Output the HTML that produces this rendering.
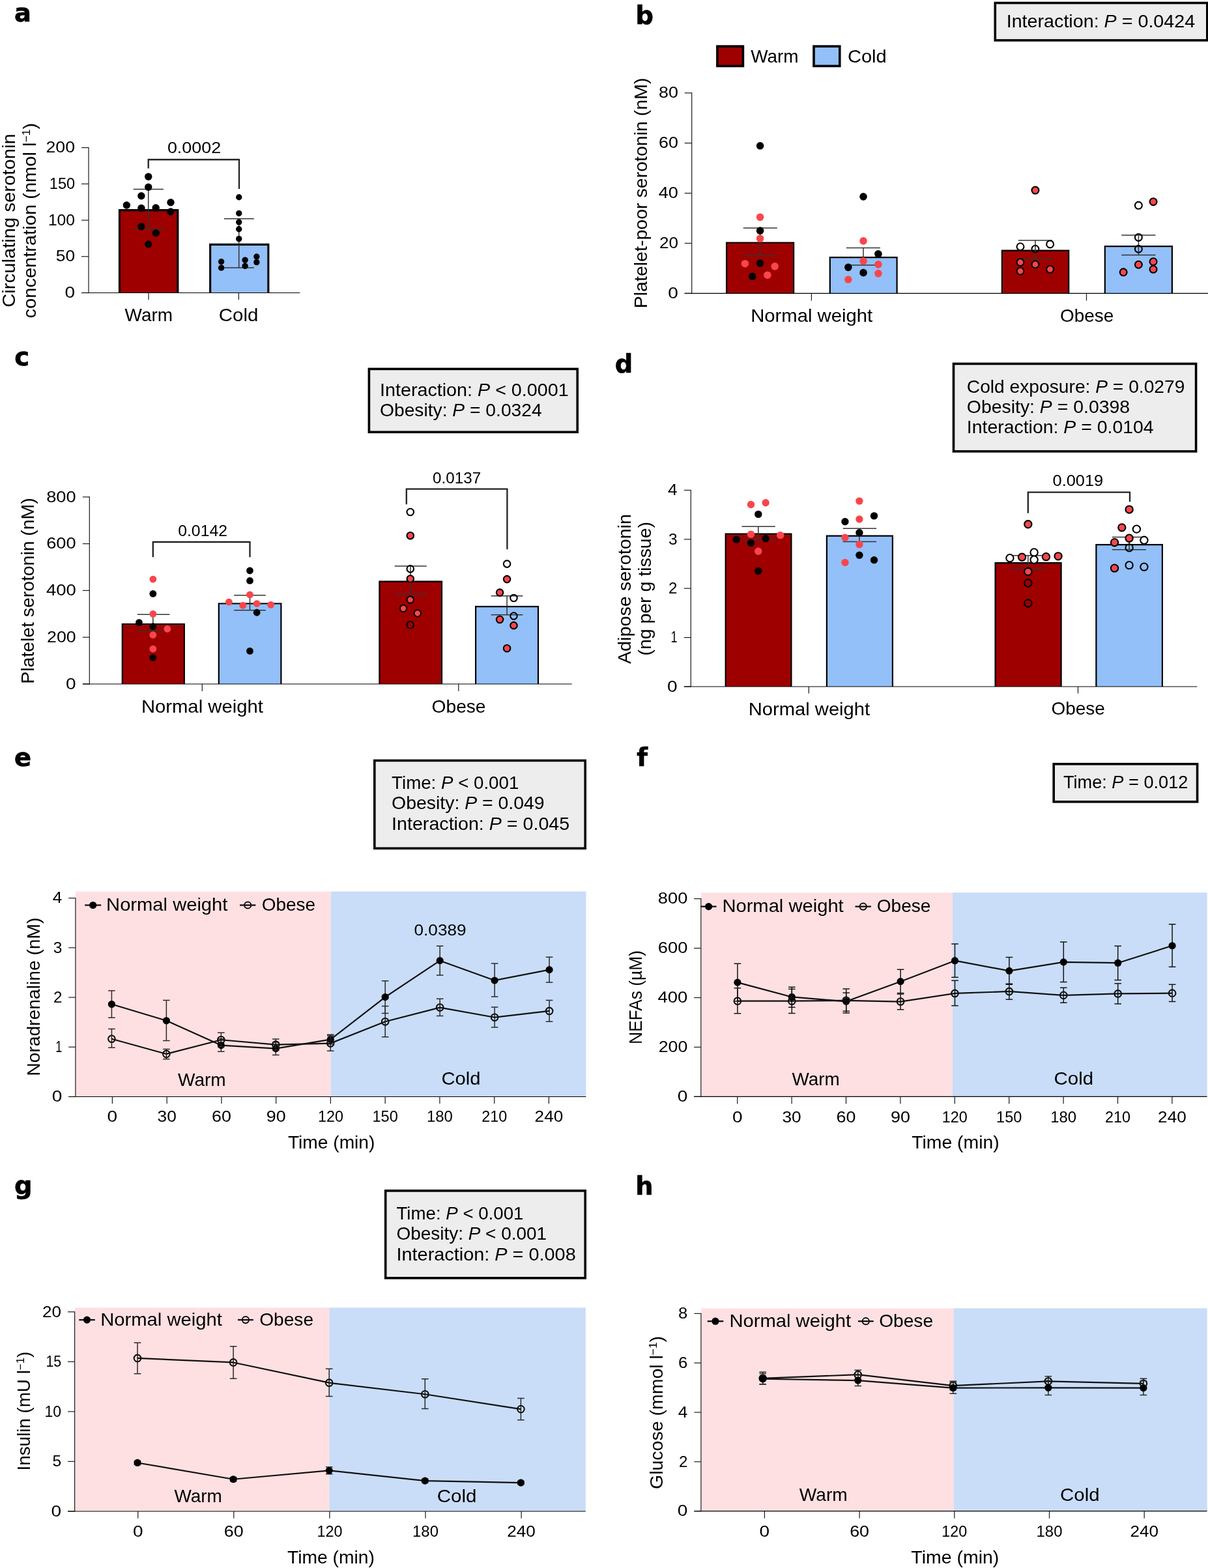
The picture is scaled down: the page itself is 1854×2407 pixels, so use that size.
<!DOCTYPE html>
<html lang="en">
<head>
<meta charset="utf-8">
<title>Figure</title>
<style>
html,body{margin:0;padding:0;background:#fff;}
body{width:1854px;height:2407px;overflow:hidden;}
svg{display:block;}
text{font-family:"Liberation Sans",sans-serif;fill:#000;}
text.pl{font-family:"DejaVu Sans","Liberation Sans",sans-serif;font-weight:bold;stroke:#000;stroke-width:0.7px;stroke-linejoin:round;}
</style>
</head>
<body>
<svg width="1854" height="2407" viewBox="0 0 1854 2407">
<rect x="0" y="0" width="1854" height="2407" fill="#fff"/>
<g id="panel_a">
<text x="22" y="33.2" font-size="38.4" class="pl" textLength="25.91" lengthAdjust="spacingAndGlyphs">a</text>
<path d="M183.45 449.5V322.65H272.85V449.5" fill="#9e0000" stroke="#000" stroke-width="3.1" stroke-linejoin="miter"/>
<path d="M322.65 449.5V375.35H411.85V449.5" fill="#93c0f9" stroke="#000" stroke-width="3.1" stroke-linejoin="miter"/>
<line x1="136" y1="226" x2="136" y2="450.1" stroke="#1a1a1a" stroke-width="1.2" stroke-linecap="butt"/>
<line x1="125" y1="449.5" x2="136" y2="449.5" stroke="#1a1a1a" stroke-width="1.2" stroke-linecap="butt"/>
<text x="99.5" y="457.2" font-size="24" textLength="15.6" lengthAdjust="spacingAndGlyphs">0</text>
<line x1="125" y1="393.77" x2="136" y2="393.77" stroke="#1a1a1a" stroke-width="1.2" stroke-linecap="butt"/>
<text x="85.8" y="401.47" font-size="24" textLength="29.3" lengthAdjust="spacingAndGlyphs">50</text>
<line x1="125" y1="338.05" x2="136" y2="338.05" stroke="#1a1a1a" stroke-width="1.2" stroke-linecap="butt"/>
<text x="73.9" y="345.75" font-size="24" textLength="41.2" lengthAdjust="spacingAndGlyphs">100</text>
<line x1="125" y1="282.32" x2="136" y2="282.32" stroke="#1a1a1a" stroke-width="1.2" stroke-linecap="butt"/>
<text x="75.8" y="290.02" font-size="24" textLength="39.3" lengthAdjust="spacingAndGlyphs">150</text>
<line x1="125" y1="226.6" x2="136" y2="226.6" stroke="#1a1a1a" stroke-width="1.2" stroke-linecap="butt"/>
<text x="70.5" y="234.3" font-size="24" textLength="44.6" lengthAdjust="spacingAndGlyphs">200</text>
<line x1="125" y1="449.5" x2="460.3" y2="449.5" stroke="#000" stroke-width="1.2" stroke-linecap="butt"/>
<line x1="228" y1="449.5" x2="228" y2="460" stroke="#1a1a1a" stroke-width="1.2" stroke-linecap="butt"/>
<line x1="366.4" y1="449.5" x2="366.4" y2="460" stroke="#1a1a1a" stroke-width="1.2" stroke-linecap="butt"/>
<path d="M227.7 290.4V351M204.6 290.4H250.9M204.6 351H250.9" fill="none" stroke="#333" stroke-width="1.5"/>
<path d="M366.7 335.8V410.9M343.9 335.8H389.8M343.9 410.9H389.8" fill="none" stroke="#333" stroke-width="1.5"/>
<circle cx="227.74" cy="271.32" r="5.7" fill="#000"/>
<circle cx="227.74" cy="287.31" r="5.7" fill="#000"/>
<circle cx="216.89" cy="300.72" r="5.7" fill="#000"/>
<circle cx="194.35" cy="314.99" r="5.7" fill="#000"/>
<circle cx="261.99" cy="310.71" r="5.7" fill="#000"/>
<circle cx="216.89" cy="319.55" r="5.7" fill="#000"/>
<circle cx="239.16" cy="318.98" r="5.7" fill="#000"/>
<circle cx="261.99" cy="324.98" r="5.7" fill="#000"/>
<circle cx="216.89" cy="347.81" r="5.7" fill="#000"/>
<circle cx="239.16" cy="357.8" r="5.7" fill="#000"/>
<circle cx="227.74" cy="374.92" r="5.7" fill="#000"/>
<circle cx="366.72" cy="302.72" r="4.7" fill="#000"/>
<circle cx="366.72" cy="327.55" r="4.7" fill="#000"/>
<circle cx="366.72" cy="340.96" r="4.7" fill="#000"/>
<circle cx="366.72" cy="351.8" r="4.7" fill="#000"/>
<circle cx="366.72" cy="366.64" r="4.7" fill="#000"/>
<circle cx="339.61" cy="401.75" r="4.7" fill="#000"/>
<circle cx="376.14" cy="399.18" r="4.7" fill="#000"/>
<circle cx="393.84" cy="394.04" r="4.7" fill="#000"/>
<circle cx="393.84" cy="402.6" r="4.7" fill="#000"/>
<circle cx="339.61" cy="411.16" r="4.7" fill="#000"/>
<circle cx="376.14" cy="408.31" r="4.7" fill="#000"/>
<path d="M227.7 258.5V245H367V289.9" fill="none" stroke="#222" stroke-width="2.3" stroke-linejoin="miter"/>
<text x="256.9" y="235.1" font-size="24" textLength="82.4" lengthAdjust="spacingAndGlyphs">0.0002</text>
<text x="191.6" y="492.5" font-size="28" textLength="73.4" lengthAdjust="spacingAndGlyphs">Warm</text>
<text x="335.8" y="492.5" font-size="28" textLength="60.5" lengthAdjust="spacingAndGlyphs">Cold</text>
<text transform="translate(23.4 471.8) rotate(-90)" font-size="28" textLength="266.5" lengthAdjust="spacingAndGlyphs">Circulating serotonin</text>
<text transform="translate(54.7 488.5) rotate(-90)" font-size="28" textLength="299.8" lengthAdjust="spacingAndGlyphs">concentration (nmol l<tspan font-size="17" dy="-9">−1</tspan><tspan dy="9">)</tspan></text>
</g>
<g id="panel_b">
<text x="975.4" y="37.3" font-size="38.4" class="pl" textLength="27.49" lengthAdjust="spacingAndGlyphs">b</text>
<rect x="1527.3" y="4.5" width="325.5" height="57.4" fill="#ededed" stroke="#000" stroke-width="3.6"/>
<text x="1544.7" y="41.8" font-size="28" textLength="289.5" lengthAdjust="spacingAndGlyphs">Interaction: <tspan font-style="italic">P</tspan> = 0.0424</text>
<rect x="1100.9" y="71.1" width="39.5" height="30.3" fill="#9e0000" stroke="#000" stroke-width="3.6"/>
<text x="1152.2" y="95.9" font-size="28" textLength="73.4" lengthAdjust="spacingAndGlyphs">Warm</text>
<rect x="1249" y="71.1" width="39.8" height="30.3" fill="#93c0f9" stroke="#000" stroke-width="3.6"/>
<text x="1300.9" y="95.9" font-size="28" textLength="59.9" lengthAdjust="spacingAndGlyphs">Cold</text>
<path d="M1115.1 450.4V372.5H1218.1V450.4" fill="#9e0000" stroke="#000" stroke-width="2.2" stroke-linejoin="miter"/>
<path d="M1273.8 450.4V395.1H1376.6V450.4" fill="#93c0f9" stroke="#000" stroke-width="2.2" stroke-linejoin="miter"/>
<path d="M1537.9 450.4V384.7H1640.2V450.4" fill="#9e0000" stroke="#000" stroke-width="2.2" stroke-linejoin="miter"/>
<path d="M1695.8 450.4V378.2H1798.9V450.4" fill="#93c0f9" stroke="#000" stroke-width="2.2" stroke-linejoin="miter"/>
<line x1="1061.7" y1="142.1" x2="1061.7" y2="451" stroke="#1a1a1a" stroke-width="1.2" stroke-linecap="butt"/>
<line x1="1050.7" y1="450.4" x2="1061.7" y2="450.4" stroke="#1a1a1a" stroke-width="1.2" stroke-linecap="butt"/>
<text x="1025.3" y="458.1" font-size="24" textLength="15.6" lengthAdjust="spacingAndGlyphs">0</text>
<line x1="1050.7" y1="373.47" x2="1061.7" y2="373.47" stroke="#1a1a1a" stroke-width="1.2" stroke-linecap="butt"/>
<text x="1011.9" y="381.17" font-size="24" textLength="29" lengthAdjust="spacingAndGlyphs">20</text>
<line x1="1050.7" y1="296.55" x2="1061.7" y2="296.55" stroke="#1a1a1a" stroke-width="1.2" stroke-linecap="butt"/>
<text x="1010.7" y="304.25" font-size="24" textLength="30.2" lengthAdjust="spacingAndGlyphs">40</text>
<line x1="1050.7" y1="219.62" x2="1061.7" y2="219.62" stroke="#1a1a1a" stroke-width="1.2" stroke-linecap="butt"/>
<text x="1011" y="227.32" font-size="24" textLength="29.9" lengthAdjust="spacingAndGlyphs">60</text>
<line x1="1050.7" y1="142.7" x2="1061.7" y2="142.7" stroke="#1a1a1a" stroke-width="1.2" stroke-linecap="butt"/>
<text x="1011" y="150.4" font-size="24" textLength="29.9" lengthAdjust="spacingAndGlyphs">80</text>
<line x1="1050.7" y1="450.4" x2="1854" y2="450.4" stroke="#000" stroke-width="1.2" stroke-linecap="butt"/>
<line x1="1245.4" y1="450.4" x2="1245.4" y2="461.5" stroke="#1a1a1a" stroke-width="1.2" stroke-linecap="butt"/>
<line x1="1667.5" y1="450.4" x2="1667.5" y2="461.5" stroke="#1a1a1a" stroke-width="1.2" stroke-linecap="butt"/>
<path d="M1166.6 350V392.5M1140.7 350H1192.8M1140.7 392.5H1192.8" fill="none" stroke="#333" stroke-width="1.5"/>
<path d="M1325 380.6V407.1M1298.9 380.6H1350.9M1298.9 407.1H1350.9" fill="none" stroke="#333" stroke-width="1.5"/>
<path d="M1588.9 369V397.1M1562.8 369H1615.1M1562.8 397.1H1615.1" fill="none" stroke="#333" stroke-width="1.5"/>
<path d="M1747.4 360.9V391.4M1721.2 360.9H1773.5M1721.2 391.4H1773.5" fill="none" stroke="#333" stroke-width="1.5"/>
<circle cx="1166.6" cy="333.34" r="5.8" fill="#f9464c"/>
<circle cx="1166.6" cy="354.15" r="5.8" fill="#000"/>
<circle cx="1166.6" cy="366.04" r="5.8" fill="#f9464c"/>
<circle cx="1143.41" cy="404.68" r="5.8" fill="#f9464c"/>
<circle cx="1166.6" cy="404.09" r="5.8" fill="#000"/>
<circle cx="1189.19" cy="408.85" r="5.8" fill="#f9464c"/>
<circle cx="1154.71" cy="424.3" r="5.8" fill="#000"/>
<circle cx="1177.9" cy="422.22" r="5.8" fill="#f9464c"/>
<circle cx="1325.04" cy="301.83" r="5.8" fill="#000"/>
<circle cx="1325.04" cy="369.9" r="5.8" fill="#f9464c"/>
<circle cx="1347.93" cy="389.82" r="5.8" fill="#000"/>
<circle cx="1325.04" cy="400.82" r="5.8" fill="#f9464c"/>
<circle cx="1347.93" cy="405.87" r="5.8" fill="#f9464c"/>
<circle cx="1301.85" cy="410.33" r="5.8" fill="#000"/>
<circle cx="1325.04" cy="418.66" r="5.8" fill="#000"/>
<circle cx="1347.93" cy="419.85" r="5.8" fill="#f9464c"/>
<circle cx="1301.85" cy="429.06" r="5.8" fill="#f9464c"/>
<circle cx="1166.6" cy="223.8" r="5.8" fill="#000"/>
<circle cx="1588.93" cy="292.09" r="5.45" fill="#f9464c" stroke="#000" stroke-width="2.1"/>
<circle cx="1565.99" cy="378.73" r="5.45" fill="none" stroke="#000" stroke-width="2.1"/>
<circle cx="1611.61" cy="374.95" r="5.45" fill="none" stroke="#000" stroke-width="2.1"/>
<circle cx="1588.93" cy="382.24" r="5.45" fill="none" stroke="#000" stroke-width="2.1"/>
<circle cx="1565.99" cy="402.75" r="5.45" fill="#f9464c" stroke="#000" stroke-width="2.1"/>
<circle cx="1588.93" cy="405.99" r="5.45" fill="#f9464c" stroke="#000" stroke-width="2.1"/>
<circle cx="1611.61" cy="413.28" r="5.45" fill="#f9464c" stroke="#000" stroke-width="2.1"/>
<circle cx="1565.99" cy="416.25" r="5.45" fill="#f9464c" stroke="#000" stroke-width="2.1"/>
<circle cx="1770.04" cy="309.64" r="5.45" fill="#f9464c" stroke="#000" stroke-width="2.1"/>
<circle cx="1747.37" cy="315.3" r="5.45" fill="none" stroke="#000" stroke-width="2.1"/>
<circle cx="1747.37" cy="364.43" r="5.45" fill="none" stroke="#000" stroke-width="2.1"/>
<circle cx="1747.37" cy="382.24" r="5.45" fill="none" stroke="#000" stroke-width="2.1"/>
<circle cx="1770.04" cy="401.67" r="5.45" fill="#f9464c" stroke="#000" stroke-width="2.1"/>
<circle cx="1747.37" cy="406.26" r="5.45" fill="#f9464c" stroke="#000" stroke-width="2.1"/>
<circle cx="1770.04" cy="413.28" r="5.45" fill="#f9464c" stroke="#000" stroke-width="2.1"/>
<circle cx="1724.16" cy="417.87" r="5.45" fill="#f9464c" stroke="#000" stroke-width="2.1"/>
<text x="1152.2" y="494.2" font-size="28" textLength="186.9" lengthAdjust="spacingAndGlyphs">Normal weight</text>
<text x="1627" y="493.9" font-size="28" textLength="82.2" lengthAdjust="spacingAndGlyphs">Obese</text>
<text transform="translate(992.5 473.3) rotate(-90)" font-size="28" textLength="353.8" lengthAdjust="spacingAndGlyphs">Platelet-poor serotonin (nM)</text>
</g>
<g id="panel_c">
<text x="22.3" y="560.5" font-size="38.4" class="pl" textLength="22.76" lengthAdjust="spacingAndGlyphs">c</text>
<rect x="566.4" y="566.4" width="319.8" height="96.9" fill="#ededed" stroke="#000" stroke-width="3.6"/>
<text x="583" y="607.7" font-size="28" textLength="289.7" lengthAdjust="spacingAndGlyphs">Interaction: <tspan font-style="italic">P</tspan> &lt; 0.0001</text>
<text x="583" y="638.9" font-size="28" textLength="248.7" lengthAdjust="spacingAndGlyphs">Obesity: <tspan font-style="italic">P</tspan> = 0.0324</text>
<path d="M187.8 1050V958H282.8V1050" fill="#9e0000" stroke="#000" stroke-width="2.2" stroke-linejoin="miter"/>
<path d="M335.8 1050V926.5H431.4V1050" fill="#93c0f9" stroke="#000" stroke-width="2.2" stroke-linejoin="miter"/>
<path d="M582.4 1050V892.6H678V1050" fill="#9e0000" stroke="#000" stroke-width="2.2" stroke-linejoin="miter"/>
<path d="M730.1 1050V931.2H826V1050" fill="#93c0f9" stroke="#000" stroke-width="2.2" stroke-linejoin="miter"/>
<line x1="137.3" y1="762.3" x2="137.3" y2="1050.6" stroke="#1a1a1a" stroke-width="1.2" stroke-linecap="butt"/>
<line x1="126.9" y1="1050" x2="137.3" y2="1050" stroke="#1a1a1a" stroke-width="1.2" stroke-linecap="butt"/>
<text x="101.1" y="1057.7" font-size="24" textLength="15.6" lengthAdjust="spacingAndGlyphs">0</text>
<line x1="126.9" y1="978.23" x2="137.3" y2="978.23" stroke="#1a1a1a" stroke-width="1.2" stroke-linecap="butt"/>
<text x="72.1" y="985.93" font-size="24" textLength="44.6" lengthAdjust="spacingAndGlyphs">200</text>
<line x1="126.9" y1="906.45" x2="137.3" y2="906.45" stroke="#1a1a1a" stroke-width="1.2" stroke-linecap="butt"/>
<text x="70.9" y="914.15" font-size="24" textLength="45.8" lengthAdjust="spacingAndGlyphs">400</text>
<line x1="126.9" y1="834.67" x2="137.3" y2="834.67" stroke="#1a1a1a" stroke-width="1.2" stroke-linecap="butt"/>
<text x="71.2" y="842.38" font-size="24" textLength="45.5" lengthAdjust="spacingAndGlyphs">600</text>
<line x1="126.9" y1="762.9" x2="137.3" y2="762.9" stroke="#1a1a1a" stroke-width="1.2" stroke-linecap="butt"/>
<text x="71.2" y="770.6" font-size="24" textLength="45.5" lengthAdjust="spacingAndGlyphs">800</text>
<line x1="126.9" y1="1050" x2="877.7" y2="1050" stroke="#000" stroke-width="1.2" stroke-linecap="butt"/>
<line x1="310.3" y1="1050" x2="310.3" y2="1061" stroke="#1a1a1a" stroke-width="1.2" stroke-linecap="butt"/>
<line x1="703.8" y1="1050" x2="703.8" y2="1061" stroke="#1a1a1a" stroke-width="1.2" stroke-linecap="butt"/>
<path d="M234.8 943.2V968.5M210.8 943.2H260.4M210.8 968.5H260.4" fill="none" stroke="#333" stroke-width="1.5"/>
<path d="M383.5 913.8V936.7M359.1 913.8H407.8M359.1 936.7H407.8" fill="none" stroke="#333" stroke-width="1.5"/>
<path d="M630 868.9V912M605.7 868.9H654.7M605.7 912H654.7" fill="none" stroke="#333" stroke-width="1.5"/>
<path d="M778.1 914.7V943.8M753.7 914.7H802.4M753.7 943.8H802.4" fill="none" stroke="#333" stroke-width="1.5"/>
<circle cx="234.84" cy="889.1" r="5.4" fill="#f9464c"/>
<circle cx="234.84" cy="911.39" r="5.4" fill="#000"/>
<circle cx="234.84" cy="942.31" r="5.4" fill="#f9464c"/>
<circle cx="213.44" cy="955.68" r="5.4" fill="#000"/>
<circle cx="234.84" cy="961.63" r="5.4" fill="#000"/>
<circle cx="256.84" cy="965.49" r="5.4" fill="#f9464c"/>
<circle cx="234.84" cy="974.71" r="5.4" fill="#f9464c"/>
<circle cx="234.84" cy="996.11" r="5.4" fill="#f9464c"/>
<circle cx="234.84" cy="1009.49" r="5.4" fill="#000"/>
<circle cx="383.47" cy="876.02" r="5.4" fill="#000"/>
<circle cx="383.47" cy="891.47" r="5.4" fill="#000"/>
<circle cx="383.47" cy="912.88" r="5.4" fill="#f9464c"/>
<circle cx="351.37" cy="924.17" r="5.4" fill="#f9464c"/>
<circle cx="372.77" cy="929.52" r="5.4" fill="#f9464c"/>
<circle cx="394.17" cy="926.55" r="5.4" fill="#f9464c"/>
<circle cx="415.58" cy="928.34" r="5.4" fill="#f9464c"/>
<circle cx="394.17" cy="940.23" r="5.4" fill="#000"/>
<circle cx="383.47" cy="999.38" r="5.4" fill="#000"/>
<circle cx="629.74" cy="785.95" r="5.25" fill="none" stroke="#000" stroke-width="2.1"/>
<circle cx="629.74" cy="822.21" r="5.25" fill="#f9464c" stroke="#000" stroke-width="2.1"/>
<circle cx="629.74" cy="873.34" r="5.25" fill="none" stroke="#000" stroke-width="2.1"/>
<circle cx="629.74" cy="888.5" r="5.25" fill="#f9464c" stroke="#000" stroke-width="2.1"/>
<circle cx="629.74" cy="920.61" r="5.25" fill="#f9464c" stroke="#000" stroke-width="2.1"/>
<circle cx="619.04" cy="933.98" r="5.25" fill="#f9464c" stroke="#000" stroke-width="2.1"/>
<circle cx="640.74" cy="941.41" r="5.25" fill="#f9464c" stroke="#000" stroke-width="2.1"/>
<circle cx="629.74" cy="959.25" r="5.25" fill="none" stroke="#000" stroke-width="2.1"/>
<circle cx="778.07" cy="865.61" r="5.25" fill="none" stroke="#000" stroke-width="2.1"/>
<circle cx="778.07" cy="889.1" r="5.25" fill="#f9464c" stroke="#000" stroke-width="2.1"/>
<circle cx="767.07" cy="909.61" r="5.25" fill="#f9464c" stroke="#000" stroke-width="2.1"/>
<circle cx="788.48" cy="917.93" r="5.25" fill="none" stroke="#000" stroke-width="2.1"/>
<circle cx="788.48" cy="945.58" r="5.25" fill="none" stroke="#000" stroke-width="2.1"/>
<circle cx="767.07" cy="950.93" r="5.25" fill="#f9464c" stroke="#000" stroke-width="2.1"/>
<circle cx="788.48" cy="960.14" r="5.25" fill="#f9464c" stroke="#000" stroke-width="2.1"/>
<circle cx="778.07" cy="995.22" r="5.25" fill="#f9464c" stroke="#000" stroke-width="2.1"/>
<path d="M234.8 855.2V832H383.5V855.2" fill="none" stroke="#222" stroke-width="2.3" stroke-linejoin="miter"/>
<text x="273.2" y="822.8" font-size="24" textLength="75.8" lengthAdjust="spacingAndGlyphs">0.0142</text>
<path d="M623.8 774.2V750.7H778.4V843.3" fill="none" stroke="#222" stroke-width="2.3" stroke-linejoin="miter"/>
<text x="664.1" y="742.4" font-size="24" textLength="74" lengthAdjust="spacingAndGlyphs">0.0137</text>
<text x="216.9" y="1094.2" font-size="28" textLength="186.9" lengthAdjust="spacingAndGlyphs">Normal weight</text>
<text x="662.6" y="1093.8" font-size="28" textLength="82.9" lengthAdjust="spacingAndGlyphs">Obese</text>
<text transform="translate(52 1049.8) rotate(-90)" font-size="28" textLength="285.5" lengthAdjust="spacingAndGlyphs">Platelet serotonin (nM)</text>
</g>
<g id="panel_d">
<text x="943.8" y="572" font-size="38.4" class="pl" textLength="27.49" lengthAdjust="spacingAndGlyphs">d</text>
<rect x="1463.5" y="558.4" width="372.1" height="134.5" fill="#ededed" stroke="#000" stroke-width="3.6"/>
<text x="1483.8" y="602.6" font-size="28" textLength="334.6" lengthAdjust="spacingAndGlyphs">Cold exposure: <tspan font-style="italic">P</tspan> = 0.0279</text>
<text x="1483.8" y="633.6" font-size="28" textLength="250.3" lengthAdjust="spacingAndGlyphs">Obesity: <tspan font-style="italic">P</tspan> = 0.0398</text>
<text x="1483.8" y="665.1" font-size="28" textLength="286.9" lengthAdjust="spacingAndGlyphs">Interaction: <tspan font-style="italic">P</tspan> = 0.0104</text>
<path d="M1113.7 1054V819.7H1214.4V1054" fill="#9e0000" stroke="#000" stroke-width="2.2" stroke-linejoin="miter"/>
<path d="M1268.9 1054V822.7H1369.9V1054" fill="#93c0f9" stroke="#000" stroke-width="2.2" stroke-linejoin="miter"/>
<path d="M1527.6 1054V864.2H1628.6V1054" fill="#9e0000" stroke="#000" stroke-width="2.2" stroke-linejoin="miter"/>
<path d="M1682.4 1054V836.1H1783.9V1054" fill="#93c0f9" stroke="#000" stroke-width="2.2" stroke-linejoin="miter"/>
<line x1="1060.3" y1="751.9" x2="1060.3" y2="1054.6" stroke="#1a1a1a" stroke-width="1.2" stroke-linecap="butt"/>
<line x1="1049.9" y1="1054" x2="1060.3" y2="1054" stroke="#1a1a1a" stroke-width="1.2" stroke-linecap="butt"/>
<text x="1023.9" y="1061.7" font-size="24" textLength="15.6" lengthAdjust="spacingAndGlyphs">0</text>
<line x1="1049.9" y1="978.62" x2="1060.3" y2="978.62" stroke="#1a1a1a" stroke-width="1.2" stroke-linecap="butt"/>
<text x="1029.5" y="986.33" font-size="24" textLength="10" lengthAdjust="spacingAndGlyphs">1</text>
<line x1="1049.9" y1="903.25" x2="1060.3" y2="903.25" stroke="#1a1a1a" stroke-width="1.2" stroke-linecap="butt"/>
<text x="1026.1" y="910.95" font-size="24" textLength="13.4" lengthAdjust="spacingAndGlyphs">2</text>
<line x1="1049.9" y1="827.88" x2="1060.3" y2="827.88" stroke="#1a1a1a" stroke-width="1.2" stroke-linecap="butt"/>
<text x="1025.9" y="835.58" font-size="24" textLength="13.6" lengthAdjust="spacingAndGlyphs">3</text>
<line x1="1049.9" y1="752.5" x2="1060.3" y2="752.5" stroke="#1a1a1a" stroke-width="1.2" stroke-linecap="butt"/>
<text x="1024.9" y="760.2" font-size="24" textLength="14.6" lengthAdjust="spacingAndGlyphs">4</text>
<line x1="1049.9" y1="1054" x2="1837.4" y2="1054" stroke="#000" stroke-width="1.2" stroke-linecap="butt"/>
<line x1="1241.3" y1="1054" x2="1241.3" y2="1064.5" stroke="#1a1a1a" stroke-width="1.2" stroke-linecap="butt"/>
<line x1="1654.5" y1="1054" x2="1654.5" y2="1064.5" stroke="#1a1a1a" stroke-width="1.2" stroke-linecap="butt"/>
<path d="M1163.8 808.2V829M1138.5 808.2H1189.9M1138.5 829H1189.9" fill="none" stroke="#333" stroke-width="1.5"/>
<path d="M1318.9 811.2V831.4M1293.7 811.2H1345.1M1293.7 831.4H1345.1" fill="none" stroke="#333" stroke-width="1.5"/>
<path d="M1577.8 852.7V872.7M1552.5 852.7H1604M1552.5 872.7H1604" fill="none" stroke="#333" stroke-width="1.5"/>
<path d="M1733.1 824.5V843.7M1706.9 824.5H1759M1706.9 843.7H1759" fill="none" stroke="#333" stroke-width="1.5"/>
<circle cx="1152.5" cy="774.5" r="5.7" fill="#f9464c"/>
<circle cx="1175.1" cy="771.8" r="5.7" fill="#f9464c"/>
<circle cx="1163.8" cy="789.4" r="5.7" fill="#000"/>
<circle cx="1318.9" cy="769.1" r="5.7" fill="#f9464c"/>
<circle cx="1152.46" cy="820.13" r="5.7" fill="#f9464c"/>
<circle cx="1197.65" cy="821.62" r="5.7" fill="#f9464c"/>
<circle cx="1130.17" cy="828.16" r="5.7" fill="#000"/>
<circle cx="1175.05" cy="826.67" r="5.7" fill="#000"/>
<circle cx="1152.46" cy="833.51" r="5.7" fill="#000"/>
<circle cx="1163.76" cy="846.29" r="5.7" fill="#f9464c"/>
<circle cx="1163.76" cy="876.61" r="5.7" fill="#000"/>
<circle cx="1341.52" cy="791.89" r="5.7" fill="#000"/>
<circle cx="1296.93" cy="800.81" r="5.7" fill="#000"/>
<circle cx="1318.93" cy="796.94" r="5.7" fill="#f9464c"/>
<circle cx="1318.93" cy="817.75" r="5.7" fill="#000"/>
<circle cx="1296.93" cy="825.18" r="5.7" fill="#f9464c"/>
<circle cx="1318.93" cy="835.89" r="5.7" fill="#f9464c"/>
<circle cx="1318.93" cy="852.24" r="5.7" fill="#000"/>
<circle cx="1341.52" cy="859.67" r="5.7" fill="#000"/>
<circle cx="1296.93" cy="863.53" r="5.7" fill="#f9464c"/>
<circle cx="1733.1" cy="782.1" r="5.65" fill="#f9464c" stroke="#000" stroke-width="2.1"/>
<circle cx="1577.83" cy="804.8" r="5.65" fill="#f9464c" stroke="#000" stroke-width="2.1"/>
<circle cx="1587.13" cy="847.92" r="5.65" fill="#fff" stroke="#000" stroke-width="2.1"/>
<circle cx="1549.93" cy="856.65" r="5.65" fill="#fff" stroke="#000" stroke-width="2.1"/>
<circle cx="1568.53" cy="855.24" r="5.65" fill="#f9464c" stroke="#000" stroke-width="2.1"/>
<circle cx="1587.13" cy="859.19" r="5.65" fill="#fff" stroke="#000" stroke-width="2.1"/>
<circle cx="1605.45" cy="854.68" r="5.65" fill="#f9464c" stroke="#000" stroke-width="2.1"/>
<circle cx="1624.05" cy="853.83" r="5.65" fill="#f9464c" stroke="#000" stroke-width="2.1"/>
<circle cx="1577.83" cy="877.51" r="5.65" fill="#f9464c" stroke="#000" stroke-width="2.1"/>
<circle cx="1577.83" cy="894.98" r="5.65" fill="none" stroke="#000" stroke-width="2.1"/>
<circle cx="1577.83" cy="925.98" r="5.65" fill="none" stroke="#000" stroke-width="2.1"/>
<circle cx="1721.83" cy="809.87" r="5.65" fill="#f9464c" stroke="#000" stroke-width="2.1"/>
<circle cx="1744.38" cy="812.13" r="5.65" fill="#fff" stroke="#000" stroke-width="2.1"/>
<circle cx="1733.11" cy="826.22" r="5.65" fill="#f9464c" stroke="#000" stroke-width="2.1"/>
<circle cx="1755.93" cy="829.32" r="5.65" fill="#fff" stroke="#000" stroke-width="2.1"/>
<circle cx="1710.56" cy="832.7" r="5.65" fill="#f9464c" stroke="#000" stroke-width="2.1"/>
<circle cx="1733.11" cy="840.87" r="5.65" fill="none" stroke="#000" stroke-width="2.1"/>
<circle cx="1710.56" cy="872.15" r="5.65" fill="#f9464c" stroke="#000" stroke-width="2.1"/>
<circle cx="1733.11" cy="867.64" r="5.65" fill="none" stroke="#000" stroke-width="2.1"/>
<circle cx="1755.93" cy="870.18" r="5.65" fill="none" stroke="#000" stroke-width="2.1"/>
<path d="M1577.8 787.7V755.6H1734V770.2" fill="none" stroke="#222" stroke-width="2.3" stroke-linejoin="miter"/>
<text x="1615.5" y="746.3" font-size="24" textLength="77.7" lengthAdjust="spacingAndGlyphs">0.0019</text>
<text x="1148.8" y="1097.5" font-size="28" textLength="186.3" lengthAdjust="spacingAndGlyphs">Normal weight</text>
<text x="1613.5" y="1097.2" font-size="28" textLength="82.3" lengthAdjust="spacingAndGlyphs">Obese</text>
<text transform="translate(968 1019.1) rotate(-90)" font-size="28" textLength="230.1" lengthAdjust="spacingAndGlyphs">Adipose serotonin</text>
<text transform="translate(999.3 1006.6) rotate(-90)" font-size="28" textLength="205.6" lengthAdjust="spacingAndGlyphs">(ng per g tissue)</text>
</g>
<g id="panel_e">
<text x="22" y="1176.1" font-size="38.4" class="pl" textLength="26.04" lengthAdjust="spacingAndGlyphs">e</text>
<rect x="574.8" y="1167.5" width="323.4" height="134.8" fill="#ededed" stroke="#000" stroke-width="3.6"/>
<text x="601.1" y="1211.2" font-size="28" textLength="195.2" lengthAdjust="spacingAndGlyphs">Time: <tspan font-style="italic">P</tspan> &lt; 0.001</text>
<text x="601.1" y="1242.4" font-size="28" textLength="234.5" lengthAdjust="spacingAndGlyphs">Obesity: <tspan font-style="italic">P</tspan> = 0.049</text>
<text x="601.1" y="1274.2" font-size="28" textLength="273.1" lengthAdjust="spacingAndGlyphs">Interaction: <tspan font-style="italic">P</tspan> = 0.045</text>
<rect x="115.9" y="1368.5" width="391.7" height="315" fill="#ffe0e2"/>
<rect x="507.6" y="1368.5" width="391.8" height="315" fill="#c9ddf8"/>
<line x1="115.9" y1="1378" x2="115.9" y2="1684.1" stroke="#1a1a1a" stroke-width="1.2" stroke-linecap="butt"/>
<line x1="105.2" y1="1683.5" x2="115.9" y2="1683.5" stroke="#1a1a1a" stroke-width="1.2" stroke-linecap="butt"/>
<text x="79.7" y="1691.2" font-size="24" textLength="15.6" lengthAdjust="spacingAndGlyphs">0</text>
<line x1="105.2" y1="1607.28" x2="115.9" y2="1607.28" stroke="#1a1a1a" stroke-width="1.2" stroke-linecap="butt"/>
<text x="85.3" y="1614.98" font-size="24" textLength="10" lengthAdjust="spacingAndGlyphs">1</text>
<line x1="105.2" y1="1531.05" x2="115.9" y2="1531.05" stroke="#1a1a1a" stroke-width="1.2" stroke-linecap="butt"/>
<text x="81.9" y="1538.75" font-size="24" textLength="13.4" lengthAdjust="spacingAndGlyphs">2</text>
<line x1="105.2" y1="1454.82" x2="115.9" y2="1454.82" stroke="#1a1a1a" stroke-width="1.2" stroke-linecap="butt"/>
<text x="81.7" y="1462.52" font-size="24" textLength="13.6" lengthAdjust="spacingAndGlyphs">3</text>
<line x1="105.2" y1="1378.6" x2="115.9" y2="1378.6" stroke="#1a1a1a" stroke-width="1.2" stroke-linecap="butt"/>
<text x="80.7" y="1386.3" font-size="24" textLength="14.6" lengthAdjust="spacingAndGlyphs">4</text>
<line x1="105.2" y1="1683.5" x2="899.4" y2="1683.5" stroke="#000" stroke-width="1.2" stroke-linecap="butt"/>
<line x1="172.4" y1="1683.5" x2="172.4" y2="1694.2" stroke="#1a1a1a" stroke-width="1.2" stroke-linecap="butt"/>
<line x1="256.15" y1="1683.5" x2="256.15" y2="1694.2" stroke="#1a1a1a" stroke-width="1.2" stroke-linecap="butt"/>
<line x1="339.9" y1="1683.5" x2="339.9" y2="1694.2" stroke="#1a1a1a" stroke-width="1.2" stroke-linecap="butt"/>
<line x1="423.65" y1="1683.5" x2="423.65" y2="1694.2" stroke="#1a1a1a" stroke-width="1.2" stroke-linecap="butt"/>
<line x1="507.4" y1="1683.5" x2="507.4" y2="1694.2" stroke="#1a1a1a" stroke-width="1.2" stroke-linecap="butt"/>
<line x1="591.15" y1="1683.5" x2="591.15" y2="1694.2" stroke="#1a1a1a" stroke-width="1.2" stroke-linecap="butt"/>
<line x1="674.9" y1="1683.5" x2="674.9" y2="1694.2" stroke="#1a1a1a" stroke-width="1.2" stroke-linecap="butt"/>
<line x1="758.65" y1="1683.5" x2="758.65" y2="1694.2" stroke="#1a1a1a" stroke-width="1.2" stroke-linecap="butt"/>
<line x1="842.4" y1="1683.5" x2="842.4" y2="1694.2" stroke="#1a1a1a" stroke-width="1.2" stroke-linecap="butt"/>
<text x="164.6" y="1722.4" font-size="24" textLength="15.6" lengthAdjust="spacingAndGlyphs">0</text>
<text x="241.55" y="1722.4" font-size="24" textLength="29.2" lengthAdjust="spacingAndGlyphs">30</text>
<text x="324.95" y="1722.4" font-size="24" textLength="29.9" lengthAdjust="spacingAndGlyphs">60</text>
<text x="408.7" y="1722.4" font-size="24" textLength="29.9" lengthAdjust="spacingAndGlyphs">90</text>
<text x="487.9" y="1722.4" font-size="24" textLength="39" lengthAdjust="spacingAndGlyphs">120</text>
<text x="571.5" y="1722.4" font-size="24" textLength="39.3" lengthAdjust="spacingAndGlyphs">150</text>
<text x="654.95" y="1722.4" font-size="24" textLength="39.9" lengthAdjust="spacingAndGlyphs">180</text>
<text x="739.15" y="1722.4" font-size="24" textLength="39" lengthAdjust="spacingAndGlyphs">210</text>
<text x="820.6" y="1722.4" font-size="24" textLength="43.6" lengthAdjust="spacingAndGlyphs">240</text>
<line x1="130.2" y1="1389.5" x2="155.2" y2="1389.5" stroke="#111" stroke-width="2.3" stroke-linecap="butt"/>
<circle cx="142.7" cy="1389.5" r="5.6" fill="#000"/>
<text x="163.1" y="1398.4" font-size="28" textLength="186.3" lengthAdjust="spacingAndGlyphs">Normal weight</text>
<line x1="368" y1="1389.5" x2="392.4" y2="1389.5" stroke="#111" stroke-width="2.3" stroke-linecap="butt"/>
<circle cx="380.2" cy="1389.5" r="5.1" fill="none" stroke="#111" stroke-width="2"/>
<text x="401.8" y="1398.4" font-size="28" textLength="82.3" lengthAdjust="spacingAndGlyphs">Obese</text>
<path d="M171.4 1520.73V1562.35M166.1 1520.73H176.7M166.1 1562.35H176.7" fill="none" stroke="#2a2a2a" stroke-width="1.5"/>
<path d="M255.36 1535.6V1597.43M250.06 1535.6H260.66M250.06 1597.43H260.66" fill="none" stroke="#2a2a2a" stroke-width="1.5"/>
<path d="M339.32 1594.75V1614.37M334.02 1594.75H344.62M334.02 1614.37H344.62" fill="none" stroke="#2a2a2a" stroke-width="1.5"/>
<path d="M423.28 1600.1V1619.42M417.98 1600.1H428.58M417.98 1619.42H428.58" fill="none" stroke="#2a2a2a" stroke-width="1.5"/>
<path d="M507.24 1588.21V1603.08M501.94 1588.21H512.54M501.94 1603.08H512.54" fill="none" stroke="#2a2a2a" stroke-width="1.5"/>
<path d="M591.2 1505.87V1555.51M585.9 1505.87H596.5M585.9 1555.51H596.5" fill="none" stroke="#2a2a2a" stroke-width="1.5"/>
<path d="M675.16 1452.36V1496.95M669.86 1452.36H680.46M669.86 1496.95H680.46" fill="none" stroke="#2a2a2a" stroke-width="1.5"/>
<path d="M759.12 1479.12V1529.95M753.82 1479.12H764.42M753.82 1529.95H764.42" fill="none" stroke="#2a2a2a" stroke-width="1.5"/>
<path d="M843.08 1469.31V1507.95M837.78 1469.31H848.38M837.78 1507.95H848.38" fill="none" stroke="#2a2a2a" stroke-width="1.5"/>
<path d="M171.4 1541.54L255.36 1566.81L339.32 1604.56L423.28 1609.62L507.24 1595.64L591.2 1530.54L675.16 1474.66L759.12 1504.98L843.08 1488.63" fill="none" stroke="#111" stroke-width="2.2" stroke-linejoin="round"/>
<circle cx="171.4" cy="1541.54" r="5.6" fill="#000"/>
<circle cx="255.36" cy="1566.81" r="5.6" fill="#000"/>
<circle cx="339.32" cy="1604.56" r="5.6" fill="#000"/>
<circle cx="423.28" cy="1609.62" r="5.6" fill="#000"/>
<circle cx="507.24" cy="1595.64" r="5.6" fill="#000"/>
<circle cx="591.2" cy="1530.54" r="5.6" fill="#000"/>
<circle cx="675.16" cy="1474.66" r="5.6" fill="#000"/>
<circle cx="759.12" cy="1504.98" r="5.6" fill="#000"/>
<circle cx="843.08" cy="1488.63" r="5.6" fill="#000"/>
<path d="M171.4 1579.59V1608.13M166.1 1579.59H176.7M166.1 1608.13H176.7" fill="none" stroke="#2a2a2a" stroke-width="1.5"/>
<path d="M255.36 1610.51V1625.67M250.06 1610.51H260.66M250.06 1625.67H260.66" fill="none" stroke="#2a2a2a" stroke-width="1.5"/>
<path d="M339.32 1585.24V1606.64M334.02 1585.24H344.62M334.02 1606.64H344.62" fill="none" stroke="#2a2a2a" stroke-width="1.5"/>
<path d="M423.28 1595.05V1611.99M417.98 1595.05H428.58M417.98 1611.99H428.58" fill="none" stroke="#2a2a2a" stroke-width="1.5"/>
<path d="M507.24 1590V1613.18M501.94 1590H512.54M501.94 1613.18H512.54" fill="none" stroke="#2a2a2a" stroke-width="1.5"/>
<path d="M591.2 1544.51V1591.78M585.9 1544.51H596.5M585.9 1591.78H596.5" fill="none" stroke="#2a2a2a" stroke-width="1.5"/>
<path d="M675.16 1533.22V1559.38M669.86 1533.22H680.46M669.86 1559.38H680.46" fill="none" stroke="#2a2a2a" stroke-width="1.5"/>
<path d="M759.12 1546V1576.92M753.82 1546H764.42M753.82 1576.92H764.42" fill="none" stroke="#2a2a2a" stroke-width="1.5"/>
<path d="M843.08 1535.6V1568.3M837.78 1535.6H848.38M837.78 1568.3H848.38" fill="none" stroke="#2a2a2a" stroke-width="1.5"/>
<path d="M171.4 1594.75L255.36 1617.94L339.32 1596.24L423.28 1603.67L507.24 1601.59L591.2 1568.3L675.16 1546.6L759.12 1561.76L843.08 1551.95" fill="none" stroke="#111" stroke-width="2.2" stroke-linejoin="round"/>
<circle cx="171.4" cy="1594.75" r="5.3" fill="none" stroke="#111" stroke-width="2.1"/>
<circle cx="255.36" cy="1617.94" r="5.3" fill="none" stroke="#111" stroke-width="2.1"/>
<circle cx="339.32" cy="1596.24" r="5.3" fill="none" stroke="#111" stroke-width="2.1"/>
<circle cx="423.28" cy="1603.67" r="5.3" fill="none" stroke="#111" stroke-width="2.1"/>
<circle cx="507.24" cy="1601.59" r="5.3" fill="none" stroke="#111" stroke-width="2.1"/>
<circle cx="591.2" cy="1568.3" r="5.3" fill="none" stroke="#111" stroke-width="2.1"/>
<circle cx="675.16" cy="1546.6" r="5.3" fill="none" stroke="#111" stroke-width="2.1"/>
<circle cx="759.12" cy="1561.76" r="5.3" fill="none" stroke="#111" stroke-width="2.1"/>
<circle cx="843.08" cy="1551.95" r="5.3" fill="none" stroke="#111" stroke-width="2.1"/>
<text x="635.55" y="1436.2" font-size="24" textLength="80" lengthAdjust="spacingAndGlyphs">0.0389</text>
<text x="273.1" y="1667.2" font-size="28" textLength="73.6" lengthAdjust="spacingAndGlyphs">Warm</text>
<text x="677.5" y="1665.3" font-size="28" textLength="60" lengthAdjust="spacingAndGlyphs">Cold</text>
<text x="441.9" y="1762.6" font-size="28" textLength="133.5" lengthAdjust="spacingAndGlyphs">Time (min)</text>
<text transform="translate(60.9 1651.8) rotate(-90)" font-size="28" textLength="243.3" lengthAdjust="spacingAndGlyphs">Noradrenaline (nM)</text>
</g>
<g id="panel_f">
<text x="977.3" y="1175.7" font-size="38.4" class="pl" textLength="16.71" lengthAdjust="spacingAndGlyphs">f</text>
<rect x="1617.2" y="1172.8" width="220.4" height="58" fill="#ededed" stroke="#000" stroke-width="3.6"/>
<text x="1631.9" y="1210.2" font-size="28" textLength="191.5" lengthAdjust="spacingAndGlyphs">Time: <tspan font-style="italic">P</tspan> = 0.012</text>
<rect x="1076.1" y="1370.2" width="385.7" height="313.2" fill="#ffe0e2"/>
<rect x="1461.8" y="1370.2" width="390.8" height="313.2" fill="#c9ddf8"/>
<line x1="1075.8" y1="1379" x2="1075.8" y2="1684" stroke="#1a1a1a" stroke-width="1.2" stroke-linecap="butt"/>
<line x1="1065.1" y1="1683.4" x2="1075.8" y2="1683.4" stroke="#1a1a1a" stroke-width="1.2" stroke-linecap="butt"/>
<text x="1039.7" y="1691.1" font-size="24" textLength="15.6" lengthAdjust="spacingAndGlyphs">0</text>
<line x1="1065.1" y1="1607.45" x2="1075.8" y2="1607.45" stroke="#1a1a1a" stroke-width="1.2" stroke-linecap="butt"/>
<text x="1010.7" y="1615.15" font-size="24" textLength="44.6" lengthAdjust="spacingAndGlyphs">200</text>
<line x1="1065.1" y1="1531.5" x2="1075.8" y2="1531.5" stroke="#1a1a1a" stroke-width="1.2" stroke-linecap="butt"/>
<text x="1009.5" y="1539.2" font-size="24" textLength="45.8" lengthAdjust="spacingAndGlyphs">400</text>
<line x1="1065.1" y1="1455.55" x2="1075.8" y2="1455.55" stroke="#1a1a1a" stroke-width="1.2" stroke-linecap="butt"/>
<text x="1009.8" y="1463.25" font-size="24" textLength="45.5" lengthAdjust="spacingAndGlyphs">600</text>
<line x1="1065.1" y1="1379.6" x2="1075.8" y2="1379.6" stroke="#1a1a1a" stroke-width="1.2" stroke-linecap="butt"/>
<text x="1009.8" y="1387.3" font-size="24" textLength="45.5" lengthAdjust="spacingAndGlyphs">800</text>
<line x1="1065.1" y1="1683.4" x2="1852.6" y2="1683.4" stroke="#000" stroke-width="1.2" stroke-linecap="butt"/>
<line x1="1131.7" y1="1683.4" x2="1131.7" y2="1694.4" stroke="#1a1a1a" stroke-width="1.2" stroke-linecap="butt"/>
<line x1="1215.1" y1="1683.4" x2="1215.1" y2="1694.4" stroke="#1a1a1a" stroke-width="1.2" stroke-linecap="butt"/>
<line x1="1298.5" y1="1683.4" x2="1298.5" y2="1694.4" stroke="#1a1a1a" stroke-width="1.2" stroke-linecap="butt"/>
<line x1="1381.9" y1="1683.4" x2="1381.9" y2="1694.4" stroke="#1a1a1a" stroke-width="1.2" stroke-linecap="butt"/>
<line x1="1465.3" y1="1683.4" x2="1465.3" y2="1694.4" stroke="#1a1a1a" stroke-width="1.2" stroke-linecap="butt"/>
<line x1="1548.7" y1="1683.4" x2="1548.7" y2="1694.4" stroke="#1a1a1a" stroke-width="1.2" stroke-linecap="butt"/>
<line x1="1632.1" y1="1683.4" x2="1632.1" y2="1694.4" stroke="#1a1a1a" stroke-width="1.2" stroke-linecap="butt"/>
<line x1="1715.5" y1="1683.4" x2="1715.5" y2="1694.4" stroke="#1a1a1a" stroke-width="1.2" stroke-linecap="butt"/>
<line x1="1798.9" y1="1683.4" x2="1798.9" y2="1694.4" stroke="#1a1a1a" stroke-width="1.2" stroke-linecap="butt"/>
<text x="1123.9" y="1722.9" font-size="24" textLength="15.6" lengthAdjust="spacingAndGlyphs">0</text>
<text x="1200.5" y="1722.9" font-size="24" textLength="29.2" lengthAdjust="spacingAndGlyphs">30</text>
<text x="1283.55" y="1722.9" font-size="24" textLength="29.9" lengthAdjust="spacingAndGlyphs">60</text>
<text x="1366.95" y="1722.9" font-size="24" textLength="29.9" lengthAdjust="spacingAndGlyphs">90</text>
<text x="1445.8" y="1722.9" font-size="24" textLength="39" lengthAdjust="spacingAndGlyphs">120</text>
<text x="1529.05" y="1722.9" font-size="24" textLength="39.3" lengthAdjust="spacingAndGlyphs">150</text>
<text x="1612.15" y="1722.9" font-size="24" textLength="39.9" lengthAdjust="spacingAndGlyphs">180</text>
<text x="1696" y="1722.9" font-size="24" textLength="39" lengthAdjust="spacingAndGlyphs">210</text>
<text x="1777.1" y="1722.9" font-size="24" textLength="43.6" lengthAdjust="spacingAndGlyphs">240</text>
<line x1="1075.6" y1="1391.6" x2="1099.6" y2="1391.6" stroke="#111" stroke-width="2.3" stroke-linecap="butt"/>
<circle cx="1087.6" cy="1391.6" r="5.6" fill="#000"/>
<text x="1108.4" y="1399.9" font-size="28" textLength="186.3" lengthAdjust="spacingAndGlyphs">Normal weight</text>
<line x1="1312.5" y1="1391.6" x2="1336.9" y2="1391.6" stroke="#111" stroke-width="2.3" stroke-linecap="butt"/>
<circle cx="1324.7" cy="1391.6" r="5.1" fill="none" stroke="#111" stroke-width="2"/>
<text x="1345.7" y="1399.9" font-size="28" textLength="82.8" lengthAdjust="spacingAndGlyphs">Obese</text>
<path d="M1131.9 1479.31V1536.98M1126.6 1479.31H1137.2M1126.6 1536.98H1137.2" fill="none" stroke="#151515" stroke-width="1.5"/>
<path d="M1215.3 1515.28V1546.2M1210 1515.28H1220.6M1210 1546.2H1220.6" fill="none" stroke="#151515" stroke-width="1.5"/>
<path d="M1298.7 1517.95V1555.11M1293.4 1517.95H1304M1293.4 1555.11H1304" fill="none" stroke="#151515" stroke-width="1.5"/>
<path d="M1382.1 1488.23V1524.49M1376.8 1488.23H1387.4M1376.8 1524.49H1387.4" fill="none" stroke="#151515" stroke-width="1.5"/>
<path d="M1465.5 1449.06V1500.34M1460.2 1449.06H1470.8M1460.2 1500.34H1470.8" fill="none" stroke="#151515" stroke-width="1.5"/>
<path d="M1548.9 1469.57V1511.13M1543.6 1469.57H1554.2M1543.6 1511.13H1554.2" fill="none" stroke="#151515" stroke-width="1.5"/>
<path d="M1632.3 1446.09V1507.62M1627 1446.09H1637.6M1627 1507.62H1637.6" fill="none" stroke="#151515" stroke-width="1.5"/>
<path d="M1715.7 1452.29V1504.39M1710.4 1452.29H1721M1710.4 1504.39H1721" fill="none" stroke="#151515" stroke-width="1.5"/>
<path d="M1799.1 1418.83V1484.14M1793.8 1418.83H1804.4M1793.8 1484.14H1804.4" fill="none" stroke="#151515" stroke-width="1.5"/>
<path d="M1131.9 1508.15L1215.3 1530.44L1298.7 1537.28L1382.1 1506.66L1465.5 1474.7L1548.9 1490.35L1632.3 1476.86L1715.7 1478.21L1799.1 1451.75" fill="none" stroke="#111" stroke-width="2.2" stroke-linejoin="round"/>
<circle cx="1131.9" cy="1508.15" r="5.6" fill="#000"/>
<circle cx="1215.3" cy="1530.44" r="5.6" fill="#000"/>
<circle cx="1298.7" cy="1537.28" r="5.6" fill="#000"/>
<circle cx="1382.1" cy="1506.66" r="5.6" fill="#000"/>
<circle cx="1465.5" cy="1474.7" r="5.6" fill="#000"/>
<circle cx="1548.9" cy="1490.35" r="5.6" fill="#000"/>
<circle cx="1632.3" cy="1476.86" r="5.6" fill="#000"/>
<circle cx="1715.7" cy="1478.21" r="5.6" fill="#000"/>
<circle cx="1799.1" cy="1451.75" r="5.6" fill="#000"/>
<path d="M1131.9 1516.77V1555.71M1126.6 1516.77H1137.2M1126.6 1555.71H1137.2" fill="none" stroke="#151515" stroke-width="1.5"/>
<path d="M1215.3 1518.25V1555.41M1210 1518.25H1220.6M1210 1555.41H1220.6" fill="none" stroke="#151515" stroke-width="1.5"/>
<path d="M1298.7 1523.9V1552.14M1293.4 1523.9H1304M1293.4 1552.14H1304" fill="none" stroke="#151515" stroke-width="1.5"/>
<path d="M1382.1 1525.98V1549.76M1376.8 1525.98H1387.4M1376.8 1549.76H1387.4" fill="none" stroke="#151515" stroke-width="1.5"/>
<path d="M1465.5 1505.2V1543.79M1460.2 1505.2H1470.8M1460.2 1543.79H1470.8" fill="none" stroke="#151515" stroke-width="1.5"/>
<path d="M1548.9 1510.32V1534.35M1543.6 1510.32H1554.2M1543.6 1534.35H1554.2" fill="none" stroke="#151515" stroke-width="1.5"/>
<path d="M1632.3 1516.26V1539.2M1627 1516.26H1637.6M1627 1539.2H1637.6" fill="none" stroke="#151515" stroke-width="1.5"/>
<path d="M1715.7 1509.78V1541.09M1710.4 1509.78H1721M1710.4 1541.09H1721" fill="none" stroke="#151515" stroke-width="1.5"/>
<path d="M1799.1 1511.13V1537.58M1793.8 1511.13H1804.4M1793.8 1537.58H1804.4" fill="none" stroke="#151515" stroke-width="1.5"/>
<path d="M1131.9 1536.68L1215.3 1536.68L1298.7 1535.79L1382.1 1537.57L1465.5 1524.9L1548.9 1521.93L1632.3 1527.87L1715.7 1525.44L1799.1 1524.63" fill="none" stroke="#111" stroke-width="2.2" stroke-linejoin="round"/>
<circle cx="1131.9" cy="1536.68" r="5.3" fill="none" stroke="#111" stroke-width="2.1"/>
<circle cx="1215.3" cy="1536.68" r="5.3" fill="none" stroke="#111" stroke-width="2.1"/>
<circle cx="1298.7" cy="1535.79" r="5.3" fill="none" stroke="#111" stroke-width="2.1"/>
<circle cx="1382.1" cy="1537.57" r="5.3" fill="none" stroke="#111" stroke-width="2.1"/>
<circle cx="1465.5" cy="1524.9" r="5.3" fill="none" stroke="#111" stroke-width="2.1"/>
<circle cx="1548.9" cy="1521.93" r="5.3" fill="none" stroke="#111" stroke-width="2.1"/>
<circle cx="1632.3" cy="1527.87" r="5.3" fill="none" stroke="#111" stroke-width="2.1"/>
<circle cx="1715.7" cy="1525.44" r="5.3" fill="none" stroke="#111" stroke-width="2.1"/>
<circle cx="1799.1" cy="1524.63" r="5.3" fill="none" stroke="#111" stroke-width="2.1"/>
<text x="1215.5" y="1665.7" font-size="28" textLength="73.3" lengthAdjust="spacingAndGlyphs">Warm</text>
<text x="1617.6" y="1665.4" font-size="28" textLength="60.6" lengthAdjust="spacingAndGlyphs">Cold</text>
<text x="1399.2" y="1762.5" font-size="28" textLength="134.6" lengthAdjust="spacingAndGlyphs">Time (min)</text>
<text transform="translate(985.2 1603.1) rotate(-90)" font-size="28" textLength="144.1" lengthAdjust="spacingAndGlyphs">NEFAs (µM)</text>
</g>
<g id="panel_g">
<text x="22" y="1833.2" font-size="38.4" class="pl" textLength="27.49" lengthAdjust="spacingAndGlyphs">g</text>
<rect x="591.7" y="1827.9" width="306.5" height="134" fill="#ededed" stroke="#000" stroke-width="3.6"/>
<text x="608.5" y="1871.6" font-size="28" textLength="194.9" lengthAdjust="spacingAndGlyphs">Time: <tspan font-style="italic">P</tspan> &lt; 0.001</text>
<text x="608.5" y="1902.8" font-size="28" textLength="230.6" lengthAdjust="spacingAndGlyphs">Obesity: <tspan font-style="italic">P</tspan> &lt; 0.001</text>
<text x="608.5" y="1934.6" font-size="28" textLength="275.2" lengthAdjust="spacingAndGlyphs">Interaction: <tspan font-style="italic">P</tspan> = 0.008</text>
<rect x="115" y="2007.4" width="390.5" height="312.6" fill="#ffe0e2"/>
<rect x="505.5" y="2007.4" width="393.3" height="312.6" fill="#c9ddf8"/>
<line x1="114.6" y1="2013.2" x2="114.6" y2="2320.6" stroke="#1a1a1a" stroke-width="1.2" stroke-linecap="butt"/>
<line x1="104" y1="2320" x2="114.6" y2="2320" stroke="#1a1a1a" stroke-width="1.2" stroke-linecap="butt"/>
<text x="78.5" y="2327.7" font-size="24" textLength="15.6" lengthAdjust="spacingAndGlyphs">0</text>
<line x1="104" y1="2243.45" x2="114.6" y2="2243.45" stroke="#1a1a1a" stroke-width="1.2" stroke-linecap="butt"/>
<text x="80.4" y="2251.15" font-size="24" textLength="13.7" lengthAdjust="spacingAndGlyphs">5</text>
<line x1="104" y1="2166.9" x2="114.6" y2="2166.9" stroke="#1a1a1a" stroke-width="1.2" stroke-linecap="butt"/>
<text x="68.5" y="2174.6" font-size="24" textLength="25.6" lengthAdjust="spacingAndGlyphs">10</text>
<line x1="104" y1="2090.35" x2="114.6" y2="2090.35" stroke="#1a1a1a" stroke-width="1.2" stroke-linecap="butt"/>
<text x="70.4" y="2098.05" font-size="24" textLength="23.7" lengthAdjust="spacingAndGlyphs">15</text>
<line x1="104" y1="2013.8" x2="114.6" y2="2013.8" stroke="#1a1a1a" stroke-width="1.2" stroke-linecap="butt"/>
<text x="65.1" y="2021.5" font-size="24" textLength="29" lengthAdjust="spacingAndGlyphs">20</text>
<line x1="104" y1="2320" x2="898.8" y2="2320" stroke="#000" stroke-width="1.2" stroke-linecap="butt"/>
<line x1="211.7" y1="2320" x2="211.7" y2="2330.8" stroke="#1a1a1a" stroke-width="1.2" stroke-linecap="butt"/>
<line x1="358.8" y1="2320" x2="358.8" y2="2330.8" stroke="#1a1a1a" stroke-width="1.2" stroke-linecap="butt"/>
<line x1="505.9" y1="2320" x2="505.9" y2="2330.8" stroke="#1a1a1a" stroke-width="1.2" stroke-linecap="butt"/>
<line x1="653" y1="2320" x2="653" y2="2330.8" stroke="#1a1a1a" stroke-width="1.2" stroke-linecap="butt"/>
<line x1="800.1" y1="2320" x2="800.1" y2="2330.8" stroke="#1a1a1a" stroke-width="1.2" stroke-linecap="butt"/>
<text x="203.9" y="2359" font-size="24" textLength="15.6" lengthAdjust="spacingAndGlyphs">0</text>
<text x="343.85" y="2359" font-size="24" textLength="29.9" lengthAdjust="spacingAndGlyphs">60</text>
<text x="486.4" y="2359" font-size="24" textLength="39" lengthAdjust="spacingAndGlyphs">120</text>
<text x="633.05" y="2359" font-size="24" textLength="39.9" lengthAdjust="spacingAndGlyphs">180</text>
<text x="778.3" y="2359" font-size="24" textLength="43.6" lengthAdjust="spacingAndGlyphs">240</text>
<line x1="121.3" y1="2026.1" x2="145.7" y2="2026.1" stroke="#111" stroke-width="2.3" stroke-linecap="butt"/>
<circle cx="133.5" cy="2026.1" r="5.6" fill="#000"/>
<text x="154.2" y="2034.8" font-size="28" textLength="186.6" lengthAdjust="spacingAndGlyphs">Normal weight</text>
<line x1="365" y1="2026.1" x2="388.8" y2="2026.1" stroke="#111" stroke-width="2.3" stroke-linecap="butt"/>
<circle cx="376.9" cy="2026.1" r="5.1" fill="none" stroke="#111" stroke-width="2"/>
<text x="398.2" y="2034.8" font-size="28" textLength="82.9" lengthAdjust="spacingAndGlyphs">Obese</text>
<path d="M211 2061.15V2108.72M205.7 2061.15H216.3M205.7 2108.72H216.3" fill="none" stroke="#2a2a2a" stroke-width="1.5"/>
<path d="M358.1 2066.8V2116.15M352.8 2066.8H363.4M352.8 2116.15H363.4" fill="none" stroke="#2a2a2a" stroke-width="1.5"/>
<path d="M505.2 2101.28V2143.5M499.9 2101.28H510.5M499.9 2143.5H510.5" fill="none" stroke="#2a2a2a" stroke-width="1.5"/>
<path d="M652.3 2116.74V2162.52M647 2116.74H657.6M647 2162.52H657.6" fill="none" stroke="#2a2a2a" stroke-width="1.5"/>
<path d="M799.4 2146.47V2179.76M794.1 2146.47H804.7M794.1 2179.76H804.7" fill="none" stroke="#2a2a2a" stroke-width="1.5"/>
<path d="M211 2084.93L358.1 2091.47L505.2 2122.69L652.3 2140.23L799.4 2163.12" fill="none" stroke="#111" stroke-width="2.2" stroke-linejoin="round"/>
<circle cx="211" cy="2084.93" r="5.3" fill="none" stroke="#111" stroke-width="2.1"/>
<circle cx="358.1" cy="2091.47" r="5.3" fill="none" stroke="#111" stroke-width="2.1"/>
<circle cx="505.2" cy="2122.69" r="5.3" fill="none" stroke="#111" stroke-width="2.1"/>
<circle cx="652.3" cy="2140.23" r="5.3" fill="none" stroke="#111" stroke-width="2.1"/>
<circle cx="799.4" cy="2163.12" r="5.3" fill="none" stroke="#111" stroke-width="2.1"/>
<path d="M211 2242.78V2248.13M205.7 2242.78H216.3M205.7 2248.13H216.3" fill="none" stroke="#2a2a2a" stroke-width="1.5"/>
<path d="M358.1 2267.75V2273.7M352.8 2267.75H363.4M352.8 2273.7H363.4" fill="none" stroke="#2a2a2a" stroke-width="1.5"/>
<path d="M505.2 2252V2262.7M499.9 2252H510.5M499.9 2262.7H510.5" fill="none" stroke="#2a2a2a" stroke-width="1.5"/>
<path d="M652.3 2270.43V2275.78M647 2270.43H657.6M647 2275.78H657.6" fill="none" stroke="#2a2a2a" stroke-width="1.5"/>
<path d="M799.4 2273.7V2278.45M794.1 2273.7H804.7M794.1 2278.45H804.7" fill="none" stroke="#2a2a2a" stroke-width="1.5"/>
<path d="M211 2245.46L358.1 2270.73L505.2 2257.35L652.3 2273.1L799.4 2276.08" fill="none" stroke="#111" stroke-width="2.2" stroke-linejoin="round"/>
<circle cx="211" cy="2245.46" r="5.6" fill="#000"/>
<circle cx="358.1" cy="2270.73" r="5.6" fill="#000"/>
<circle cx="505.2" cy="2257.35" r="5.6" fill="#000"/>
<circle cx="652.3" cy="2273.1" r="5.6" fill="#000"/>
<circle cx="799.4" cy="2276.08" r="5.6" fill="#000"/>
<text x="267.4" y="2306.1" font-size="28" textLength="73.4" lengthAdjust="spacingAndGlyphs">Warm</text>
<text x="670.7" y="2305.7" font-size="28" textLength="60.8" lengthAdjust="spacingAndGlyphs">Cold</text>
<text x="441" y="2399.7" font-size="28" textLength="133.9" lengthAdjust="spacingAndGlyphs">Time (min)</text>
<text transform="translate(46.1 2257.5) rotate(-90)" font-size="28" textLength="182.8" lengthAdjust="spacingAndGlyphs">Insulin (mU l<tspan font-size="17" dy="-9">−1</tspan><tspan dy="9">)</tspan></text>
</g>
<g id="panel_h">
<text x="975.2" y="1834.1" font-size="38.4" class="pl" textLength="27.34" lengthAdjust="spacingAndGlyphs">h</text>
<rect x="1076.1" y="2008.3" width="387.5" height="311.4" fill="#ffe0e2"/>
<rect x="1463.6" y="2008.3" width="389" height="311.4" fill="#c9ddf8"/>
<line x1="1075.9" y1="2015.8" x2="1075.9" y2="2320.3" stroke="#1a1a1a" stroke-width="1.2" stroke-linecap="butt"/>
<line x1="1065.4" y1="2319.7" x2="1075.9" y2="2319.7" stroke="#1a1a1a" stroke-width="1.2" stroke-linecap="butt"/>
<text x="1039.7" y="2327.4" font-size="24" textLength="15.6" lengthAdjust="spacingAndGlyphs">0</text>
<line x1="1065.4" y1="2243.88" x2="1075.9" y2="2243.88" stroke="#1a1a1a" stroke-width="1.2" stroke-linecap="butt"/>
<text x="1041.9" y="2251.57" font-size="24" textLength="13.4" lengthAdjust="spacingAndGlyphs">2</text>
<line x1="1065.4" y1="2168.05" x2="1075.9" y2="2168.05" stroke="#1a1a1a" stroke-width="1.2" stroke-linecap="butt"/>
<text x="1040.7" y="2175.75" font-size="24" textLength="14.6" lengthAdjust="spacingAndGlyphs">4</text>
<line x1="1065.4" y1="2092.22" x2="1075.9" y2="2092.22" stroke="#1a1a1a" stroke-width="1.2" stroke-linecap="butt"/>
<text x="1041" y="2099.92" font-size="24" textLength="14.3" lengthAdjust="spacingAndGlyphs">6</text>
<line x1="1065.4" y1="2016.4" x2="1075.9" y2="2016.4" stroke="#1a1a1a" stroke-width="1.2" stroke-linecap="butt"/>
<text x="1041" y="2024.1" font-size="24" textLength="14.3" lengthAdjust="spacingAndGlyphs">8</text>
<line x1="1065.4" y1="2319.7" x2="1852.6" y2="2319.7" stroke="#000" stroke-width="1.2" stroke-linecap="butt"/>
<line x1="1173.4" y1="2319.7" x2="1173.4" y2="2330.8" stroke="#1a1a1a" stroke-width="1.2" stroke-linecap="butt"/>
<line x1="1319.1" y1="2319.7" x2="1319.1" y2="2330.8" stroke="#1a1a1a" stroke-width="1.2" stroke-linecap="butt"/>
<line x1="1464.8" y1="2319.7" x2="1464.8" y2="2330.8" stroke="#1a1a1a" stroke-width="1.2" stroke-linecap="butt"/>
<line x1="1610.5" y1="2319.7" x2="1610.5" y2="2330.8" stroke="#1a1a1a" stroke-width="1.2" stroke-linecap="butt"/>
<line x1="1756.2" y1="2319.7" x2="1756.2" y2="2330.8" stroke="#1a1a1a" stroke-width="1.2" stroke-linecap="butt"/>
<text x="1165.6" y="2358.8" font-size="24" textLength="15.6" lengthAdjust="spacingAndGlyphs">0</text>
<text x="1304.15" y="2358.8" font-size="24" textLength="29.9" lengthAdjust="spacingAndGlyphs">60</text>
<text x="1445.3" y="2358.8" font-size="24" textLength="39" lengthAdjust="spacingAndGlyphs">120</text>
<text x="1590.55" y="2358.8" font-size="24" textLength="39.9" lengthAdjust="spacingAndGlyphs">180</text>
<text x="1734.4" y="2358.8" font-size="24" textLength="43.6" lengthAdjust="spacingAndGlyphs">240</text>
<line x1="1085.7" y1="2028.2" x2="1110.3" y2="2028.2" stroke="#111" stroke-width="2.3" stroke-linecap="butt"/>
<circle cx="1098" cy="2028.2" r="5.6" fill="#000"/>
<text x="1119.4" y="2037.1" font-size="28" textLength="186.6" lengthAdjust="spacingAndGlyphs">Normal weight</text>
<line x1="1316.9" y1="2028.2" x2="1340.7" y2="2028.2" stroke="#111" stroke-width="2.3" stroke-linecap="butt"/>
<circle cx="1328.8" cy="2028.2" r="5.1" fill="none" stroke="#111" stroke-width="2"/>
<text x="1349.2" y="2037.1" font-size="28" textLength="82.9" lengthAdjust="spacingAndGlyphs">Obese</text>
<path d="M1170.7 2106.34V2124.77M1165.4 2106.34H1176M1165.4 2124.77H1176" fill="none" stroke="#2a2a2a" stroke-width="1.5"/>
<path d="M1316.75 2103.37V2117.04M1311.45 2103.37H1322.05M1311.45 2117.04H1322.05" fill="none" stroke="#2a2a2a" stroke-width="1.5"/>
<path d="M1462.8 2120.35V2133.85M1457.5 2120.35H1468.1M1457.5 2133.85H1468.1" fill="none" stroke="#2a2a2a" stroke-width="1.5"/>
<path d="M1608.85 2112.79V2127.91M1603.55 2112.79H1614.15M1603.55 2127.91H1614.15" fill="none" stroke="#2a2a2a" stroke-width="1.5"/>
<path d="M1754.9 2116.3V2131.42M1749.6 2116.3H1760.2M1749.6 2131.42H1760.2" fill="none" stroke="#2a2a2a" stroke-width="1.5"/>
<path d="M1170.7 2115.85L1316.75 2110.2L1462.8 2127.1L1608.85 2120.35L1754.9 2123.86" fill="none" stroke="#111" stroke-width="2.2" stroke-linejoin="round"/>
<circle cx="1170.7" cy="2115.85" r="5.3" fill="none" stroke="#111" stroke-width="2.1"/>
<circle cx="1316.75" cy="2110.2" r="5.3" fill="none" stroke="#111" stroke-width="2.1"/>
<circle cx="1462.8" cy="2127.1" r="5.3" fill="none" stroke="#111" stroke-width="2.1"/>
<circle cx="1608.85" cy="2120.35" r="5.3" fill="none" stroke="#111" stroke-width="2.1"/>
<circle cx="1754.9" cy="2123.86" r="5.3" fill="none" stroke="#111" stroke-width="2.1"/>
<path d="M1170.7 2108.42V2125.07M1165.4 2108.42H1176M1165.4 2125.07H1176" fill="none" stroke="#2a2a2a" stroke-width="1.5"/>
<path d="M1316.75 2110.8V2127.44M1311.45 2110.8H1322.05M1311.45 2127.44H1322.05" fill="none" stroke="#2a2a2a" stroke-width="1.5"/>
<path d="M1462.8 2121.97V2139.24M1457.5 2121.97H1468.1M1457.5 2139.24H1468.1" fill="none" stroke="#2a2a2a" stroke-width="1.5"/>
<path d="M1608.85 2119.27V2141.4M1603.55 2119.27H1614.15M1603.55 2141.4H1614.15" fill="none" stroke="#2a2a2a" stroke-width="1.5"/>
<path d="M1754.9 2119.81V2141.4M1749.6 2119.81H1760.2M1749.6 2141.4H1760.2" fill="none" stroke="#2a2a2a" stroke-width="1.5"/>
<path d="M1170.7 2116.74L1316.75 2119.12L1462.8 2130.61L1608.85 2130.34L1754.9 2130.61" fill="none" stroke="#111" stroke-width="2.2" stroke-linejoin="round"/>
<circle cx="1170.7" cy="2116.74" r="5.6" fill="#000"/>
<circle cx="1316.75" cy="2119.12" r="5.6" fill="#000"/>
<circle cx="1462.8" cy="2130.61" r="5.6" fill="#000"/>
<circle cx="1608.85" cy="2130.34" r="5.6" fill="#000"/>
<circle cx="1754.9" cy="2130.61" r="5.6" fill="#000"/>
<text x="1226.8" y="2304.3" font-size="28" textLength="73.9" lengthAdjust="spacingAndGlyphs">Warm</text>
<text x="1627.1" y="2304" font-size="28" textLength="60.5" lengthAdjust="spacingAndGlyphs">Cold</text>
<text x="1398.3" y="2399.7" font-size="28" textLength="135" lengthAdjust="spacingAndGlyphs">Time (min)</text>
<text transform="translate(1016.9 2286) rotate(-90)" font-size="28" textLength="235.1" lengthAdjust="spacingAndGlyphs">Glucose (mmol l<tspan font-size="17" dy="-9">−1</tspan><tspan dy="9">)</tspan></text>
</g>
</svg>
</body>
</html>
